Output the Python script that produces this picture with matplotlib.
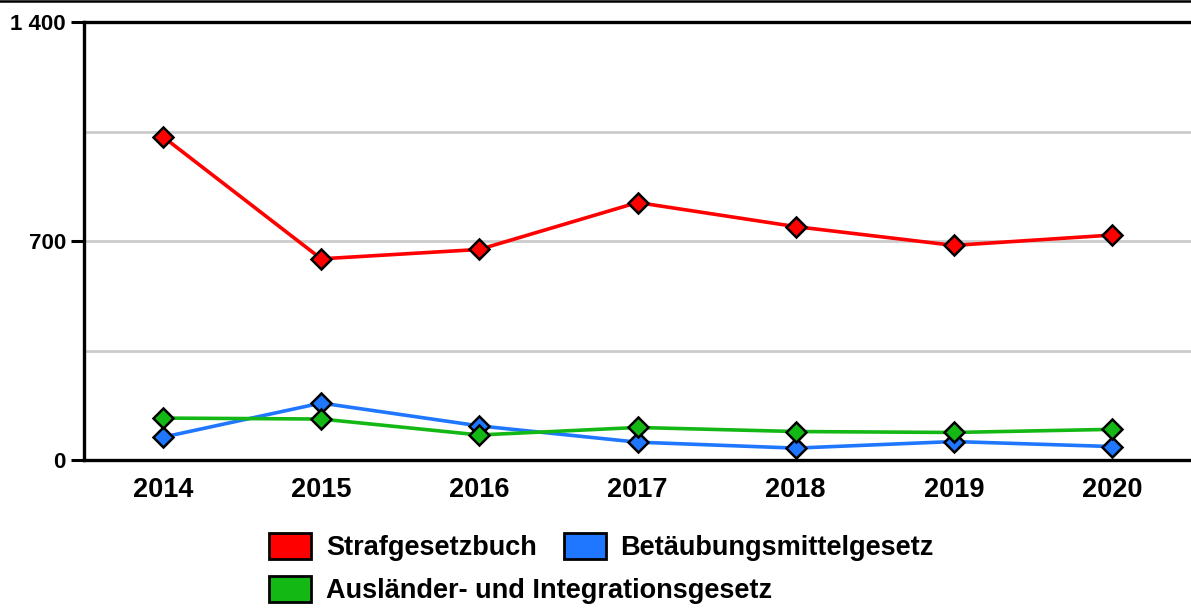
import matplotlib
matplotlib.use("Agg")
import matplotlib.pyplot as plt
from matplotlib.patches import Patch
from matplotlib.lines import Line2D

years = ["2014", "2015", "2016", "2017", "2018", "2019", "2020"]
strafgesetzbuch = [1033, 643, 673, 823, 746, 686, 719]
betaeubungsmittel = [73, 182, 109, 57, 38, 59, 43]
auslaender = [134, 131, 80, 104, 91, 88, 98]
series_names = ["Strafgesetzbuch", "Betäubungsmittelgesetz", "Ausländer- und Integrationsgesetz"]
colors = ["#ff0000", "#1f77ff", "#14b814"]
yticks = [0, 700, 1400]
ytick_labels = ["0", "700", "1 400"]

plt.rcParams['font.family'] = ['Liberation Sans', 'DejaVu Sans']
plt.rcParams['font.weight'] = 'bold'

fig = plt.figure(figsize=(11.91, 6.09), dpi=100)
ax = fig.add_axes([84/1191, 1-460/609, 1-84/1191, (460-22)/609])

x = list(range(len(years)))
for vals, c in zip([strafgesetzbuch, betaeubungsmittel, auslaender], colors):
    ax.plot(x, vals, color=c, lw=2.6, marker='D', markersize=10,
            markerfacecolor=c, markeredgecolor='black', markeredgewidth=1.8, zorder=3)

ax.set_xlim(-0.5, len(years) - 0.5)
ax.set_ylim(0, 1400)
ax.set_yticks(yticks)
ax.set_yticklabels(ytick_labels)
ax.set_yticks([350, 1050], minor=True)
ax.set_xticks(x)
ax.set_xticklabels(years)
ax.grid(axis='y', which='both', color='#cccccc', lw=2)
ax.set_axisbelow(True)
ax.tick_params(axis='y', which='major', length=9.5, width=2.2, pad=3.5, labelsize=16)
ax.tick_params(axis='y', which='minor', length=0)
ax.tick_params(axis='x', length=0, pad=12, labelsize=19.5)
for s in ['left', 'bottom', 'top']:
    ax.spines[s].set_linewidth(2.4)
    ax.spines[s].set_color('black')
ax.spines['right'].set_visible(False)

fig.add_artist(Line2D([0, 1], [1-1.3/609, 1-1.3/609], color='black', lw=1.8, transform=fig.transFigure))

handles = [Patch(facecolor=c, edgecolor='black', lw=2) for c in colors]
leg_kw = dict(frameon=False, handlelength=1.55, handleheight=1.1,
              handletextpad=0.55, columnspacing=1.0, borderpad=0,
              borderaxespad=0, prop={'weight': 'bold', 'size': 19.5})
leg1 = fig.legend(handles[:2], series_names[:2], loc='center left',
                  bbox_to_anchor=(269/1191, 1-547/609), ncol=2, **leg_kw)
leg2 = fig.legend(handles[2:], series_names[2:], loc='center left',
                  bbox_to_anchor=(269/1191, 1-590/609), ncol=1, **leg_kw)

fig.savefig("out.png", dpi=100)
